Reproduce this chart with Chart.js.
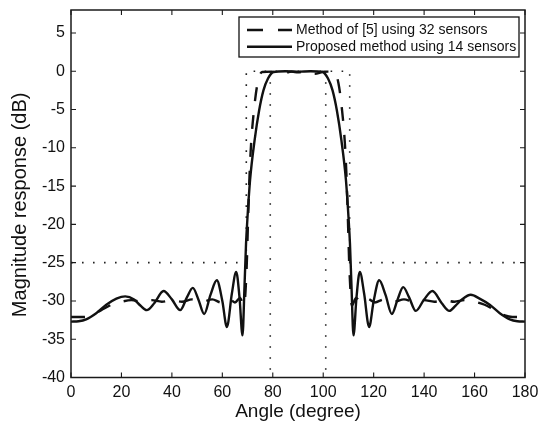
<!DOCTYPE html>
<html><head><meta charset="utf-8">
<script src="https://cdn.jsdelivr.net/npm/chart.js@4/dist/chart.umd.min.js"></script>
<style>html,body{margin:0;padding:0;background:#fff}#wrap{width:539px;height:422px;position:relative}</style>
</head><body><div id="wrap"><canvas id="c" width="539" height="422"></canvas></div>
<script>
const xTicks = [0,20,40,60,80,100,120,140,160,180];
const yTicks = [-40,-35,-30,-25,-20,-15,-10,-5,0,5];
const seriesNames = ["Method of [5] using 32 sensors","Proposed method using 14 sensors"];

const angleProposed = [0,3,6,10,14,18,21.5,25,27.5,30,33,36.7,40,43.3,46,48.3,50.5,52.8,55.3,57.8,60,61.8,63.8,65.5,66.8,68,68.8,69.4,69.9,71,72.8,74.6,76.3,78.1,80.3,85,90,95,99.7,101.9,103.7,105.4,107.2,109,110.1,110.6,111.2,112,113.2,114.5,116.2,118.2,120,122.2,124.7,127.2,129.5,131.7,134,136.7,140,143.3,147,150,152.5,155,158.5,162,166,170,174,177,180];
const magProposed = [-32.7,-32.65,-32.4,-31.6,-30.5,-29.7,-29.4,-29.8,-30.6,-31.2,-30.3,-28.7,-29.8,-31.2,-29.5,-28.3,-29.8,-31.7,-29.2,-27.3,-30,-33.4,-29,-26.2,-29.5,-34.5,-28,-22.5,-19.5,-14.2,-9,-5.1,-2.5,-0.95,-0.1,0,-0.05,0,-0.1,-0.95,-2.5,-5.1,-9,-14.2,-19.5,-22.5,-28,-34.5,-29.5,-26.2,-29,-33.4,-30,-27.3,-29.2,-31.7,-29.8,-28.2,-29.5,-31.3,-29.8,-28.7,-30.3,-31.3,-30.6,-29.8,-29.2,-29.7,-30.5,-31.6,-32.4,-32.65,-32.7];

const angleRef = [0,5,8,12,16,20,24,28,32,36,40,44,48,52,56,59.5,62.5,65,67,68.6,69.6,70.2,70.8,71.4,72.5,74,75.8,79.5,83.5,87.5,90,92.5,96.5,100.5,104.2,106,107.5,108.6,109.2,109.8,110.4,111.4,113,115,117.5,120.5,124,128,132,136,140,144,148,152,156,160,164,168,172,175,180];
const magRef = [-32.1,-32.1,-31.9,-31.2,-30.5,-30.1,-29.9,-30.1,-29.9,-30.1,-29.9,-30.1,-29.8,-30.1,-29.8,-30.2,-29.7,-30.2,-29.6,-30.6,-26,-19.5,-13.5,-9.5,-5.2,-1.5,-0.1,-0.05,-0.35,-0.05,-0.15,-0.05,-0.35,-0.05,-0.1,-1.5,-5.2,-9.5,-13.5,-19.5,-26,-30.6,-29.6,-30.2,-29.7,-30.2,-29.8,-30.1,-29.8,-30.1,-29.9,-30.1,-29.9,-30.1,-29.9,-30.1,-30.5,-31.2,-31.9,-32.1,-32.1];

// specification mask (dotted)
const maskStopX = [0,69.5,69.5,110.5,110.5,180];
const maskStopY = [-25,-25,0,0,-25,-25];
const maskPassEdges = [79,101];
const maskPassY = [0,-40];

const zip = (xs, ys) => xs.map((x,i)=>({x:x,y:ys[i]}));

const datasets = [
  {label:seriesNames[1], data:zip(angleProposed,magProposed), borderColor:'#111', borderWidth:2.4, pointRadius:0, cubicInterpolationMode:'monotone', fill:false},
  {label:seriesNames[0], data:zip(angleRef,magRef), borderColor:'#111', borderWidth:2.4, borderDash:[14,14], pointRadius:0, cubicInterpolationMode:'monotone', fill:false},
  {label:'', data:zip(maskStopX,maskStopY), borderColor:'#222', borderWidth:1.6, borderDash:[1.6,9.4], pointRadius:0, tension:0, fill:false},
];
maskPassEdges.forEach(e=>{
  datasets.push({label:'', data:zip([e,e],maskPassY), borderColor:'#222', borderWidth:1.6, borderDash:[1.6,9.4], pointRadius:0, tension:0, fill:false});
});

const frame = {
  id:'frame',
  afterDatasetsDraw(chart){
    const ctx = chart.ctx, a = chart.chartArea;
    const xs = chart.scales.x, ys = chart.scales.y;
    ctx.save();
    ctx.strokeStyle = '#1a1a1a'; ctx.lineWidth = 1.5;
    ctx.strokeRect(a.left, a.top, a.right-a.left, a.bottom-a.top);
    ctx.lineWidth = 1.1;
    ctx.beginPath();
    xTicks.forEach(v=>{ const p = xs.getPixelForValue(v);
      ctx.moveTo(p,a.bottom); ctx.lineTo(p,a.bottom-5);
      ctx.moveTo(p,a.top); ctx.lineTo(p,a.top+5); });
    yTicks.forEach(v=>{ const p = ys.getPixelForValue(v);
      ctx.moveTo(a.left,p); ctx.lineTo(a.left+5,p);
      ctx.moveTo(a.right,p); ctx.lineTo(a.right-5,p); });
    ctx.stroke();
    // legend box
    const x0 = a.right-286, y0 = a.top+7, w = 280, h = 40;
    ctx.fillStyle = '#fff'; ctx.fillRect(x0,y0,w,h);
    ctx.strokeStyle = '#111'; ctx.lineWidth = 1.3; ctx.strokeRect(x0,y0,w,h);
    const rows = [datasets[1], datasets[0]];
    ctx.font = '14px "Liberation Sans", Arial, sans-serif';
    ctx.textBaseline = 'middle'; ctx.fillStyle = '#111';
    rows.forEach((d,i)=>{
      const yy = y0 + 13 + i*16.8;
      ctx.beginPath(); ctx.strokeStyle = '#111'; ctx.lineWidth = 2.4;
      ctx.setLineDash(d.borderDash ? [16,15] : []);
      ctx.moveTo(x0+8,yy); ctx.lineTo(x0+53,yy); ctx.stroke();
      ctx.setLineDash([]);
      ctx.fillText(d.label, x0+57, yy);
    });
    ctx.restore();
  }
};

Chart.defaults.font.family = '"Liberation Sans", Arial, sans-serif';
Chart.defaults.color = '#111';

new Chart(document.getElementById('c'), {
  type:'line',
  data:{datasets:datasets},
  options:{
    responsive:false, animation:false, devicePixelRatio:1,
    layout:{padding:{top:10,right:14,left:0,bottom:0}},
    plugins:{legend:{display:false}, tooltip:{enabled:false}},
    scales:{
      x:{type:'linear', min:0, max:180,
        afterBuildTicks:s=>{s.ticks = xTicks.map(v=>({value:v}));},
        afterFit:s=>{s.height = 44.5; s.paddingLeft = 0; s.paddingRight = 0;},
        grid:{display:false, drawTicks:false}, border:{display:false},
        ticks:{padding:5, maxRotation:0, autoSkip:false, font:{size:16}, color:'#111'},
        title:{display:true, text:'Angle (degree)', font:{size:19}, color:'#111', padding:{top:0,bottom:-1}}
      },
      y:{type:'linear', min:-40, max:8,
        afterBuildTicks:s=>{s.ticks = yTicks.map(v=>({value:v}));},
        afterFit:s=>{s.width = 71; s.paddingTop = 0; s.paddingBottom = 0;},
        grid:{display:false, drawTicks:false}, border:{display:false},
        ticks:{padding:6, autoSkip:false, font:{size:16}, color:'#111'},
        title:{display:true, text:'Magnitude response (dB)    ', font:{size:20}, color:'#111', padding:{top:8,bottom:0}}
      }
    }
  },
  plugins:[frame]
});
</script></body></html>
